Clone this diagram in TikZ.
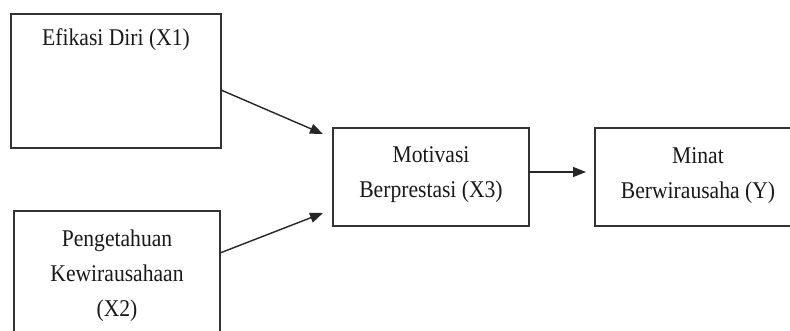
\documentclass[tikz,border=0pt]{standalone}
\usepackage{fontspec}
\setmainfont{Liberation Serif}[FakeStretch=0.9]
\usetikzlibrary{arrows.meta,calc}
\begin{document}
\begin{tikzpicture}[x=1pt,y=-1pt,
  box/.style={draw=black!80,line width=1.4pt,inner sep=0pt,outer sep=0pt,anchor=north west},
  lbl/.style={align=center,inner sep=0pt,anchor=base,font=\fontsize{24}{35}\selectfont,text=black!90},
  arr/.style={draw=black!85,line width=1.4pt,-{Triangle[length=13pt,width=10pt]}}]
\useasboundingbox (0,0) rectangle (790,331);
\fill[white] (0,0) rectangle (790,331);
\clip (0,0) rectangle (790,331);
\node[box,minimum width=210pt,minimum height=134pt] (b1) at (11,14) {};
\node[box,minimum width=206pt,minimum height=140pt] (b2) at (14,211) {};
\node[box,minimum width=196pt,minimum height=98pt] (b3) at (333,128) {};
\node[box,minimum width=206pt,minimum height=98pt] (b4) at (595,128) {};
\node[lbl] (t1) at (116,46) {Efikasi Diri (X1)};
\node[lbl] (t2) at (117,316) {Pengetahuan\\Kewirausahaan\\(X2)};
\node[lbl] (t3) at (431,198) {Motivasi\\Berprestasi (X3)};
\node[lbl] (t4) at (698,199) {Minat\\Berwirausaha (Y)};
\coordinate (e1) at ($(b3.north west)+(-10,6)$);
\coordinate (e2) at ($(b3.south west)+(-10,-13)$);
\draw[arr] ($(b1.north east)+(0,76)$) -- (e1);
\draw[arr] ($(b2.north west)+(206,42)$) -- (e2);
\draw[arr] ($(b3.north east)+(0,44)$) -- ($(b4.north west)+(-9,44)$);
\end{tikzpicture}
\end{document}
